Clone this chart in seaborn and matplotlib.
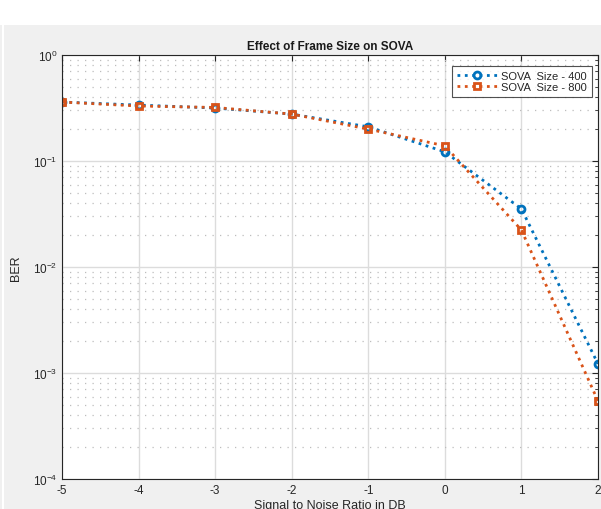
import numpy as np
import pandas as pd
import seaborn as sns
import matplotlib
matplotlib.use("Agg")
import matplotlib.pyplot as plt
from matplotlib.patches import Rectangle
from matplotlib.ticker import LogLocator, NullFormatter

snr = [-5, -4, -3, -2, -1, 0, 1, 2]
ber_400 = [0.36, 0.337, 0.316, 0.277, 0.21, 0.122, 0.0353, 0.00122]
ber_800 = [0.36, 0.33, 0.32, 0.277, 0.20, 0.139, 0.0223, 0.000544]
labels = ["SOVA  Size - 400", "SOVA  Size - 800"]
colors = ["#0072BD", "#D95319"]
markers = ["o", "s"]

sns.set_style("white")
plt.rcParams['font.family'] = ['Liberation Sans', 'DejaVu Sans']

fig = plt.figure(figsize=(6.01, 5.10), dpi=100)
fig.patch.set_facecolor("#f0f0f0")
fig.patches.append(Rectangle((0, 1 - 26 / 510), 1, 26 / 510, transform=fig.transFigure,
                             facecolor="white", edgecolor="none", zorder=0))
fig.patches.append(Rectangle((2 / 601, 0), 2 / 601, 1 - 26 / 510, transform=fig.transFigure,
                             facecolor="white", edgecolor="none", zorder=0))

ax = fig.add_axes([62 / 601, 1 - 480 / 510, (598 - 62) / 601, (480 - 56) / 510])
ax.set_facecolor("white")

for vals, lab, c, m in zip([ber_400, ber_800], labels, colors, markers):
    df = pd.DataFrame({"snr": snr, "ber": vals})
    sns.lineplot(data=df, x="snr", y="ber", ax=ax, color=c, linestyle=":", linewidth=2,
                 marker=m, markersize=5, markerfacecolor="none", markeredgecolor=c,
                 markeredgewidth=2, label=lab)

ax.set_yscale("log")
ax.set_ylim(1e-4, 1)
ax.set_xlim(-5, 2)
ax.set_xticks(snr)
ax.set_xticklabels([str(v) for v in snr])
ax.yaxis.set_major_locator(LogLocator(base=10, numticks=10))
ax.yaxis.set_minor_locator(LogLocator(base=10, subs=np.arange(2, 10), numticks=20))
ax.yaxis.set_minor_formatter(NullFormatter())

ax.grid(True, which="major", color="#dcdcdc", linestyle="-", linewidth=1)
ax.grid(True, which="minor", axis="y", color="#bdbdbd", linestyle=(0, (1, 5)), linewidth=0.9)
ax.set_axisbelow(True)

ax.tick_params(which="both", direction="in", top=True, right=True, colors="#262626",
               labelsize=8.5, length=4)
ax.tick_params(which="minor", length=2.5)
for s in ax.spines.values():
    s.set_color("#262626")
    s.set_linewidth(0.8)

ax.set_title("Effect of Frame Size on SOVA", fontsize=8.5, fontweight="bold", pad=4, color="#1a1a1a")
ax.set_xlabel("Signal to Noise Ratio in DB", fontsize=9, labelpad=2, color="#262626")
ax.set_ylabel("BER", fontsize=9, labelpad=8, color="#262626")

leg = ax.legend(loc="upper right", fontsize=8, frameon=True, fancybox=False,
                bbox_to_anchor=(0.988, 0.975), borderaxespad=0, handlelength=3.6,
                borderpad=0.45, labelspacing=0.15, handletextpad=0.3)
leg.get_frame().set_edgecolor("#262626")
leg.get_frame().set_linewidth(0.8)

fig.savefig("out.png", dpi=100, facecolor=fig.get_facecolor())
